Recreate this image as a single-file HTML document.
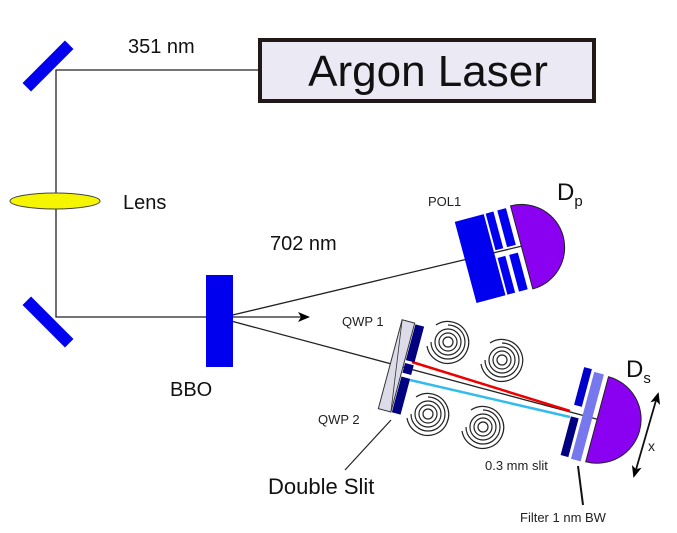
<!DOCTYPE html>
<html><head><style>html,body{margin:0;padding:0;background:#fff}svg{display:block}</style></head>
<body>
<svg width="677" height="533" viewBox="0 0 677 533" xmlns="http://www.w3.org/2000/svg" font-family="Liberation Sans, sans-serif">
<defs><marker id="ah" markerWidth="12" markerHeight="10" refX="10" refY="5" orient="auto" markerUnits="userSpaceOnUse"><path d="M0,0 L12,5 L0,10 L3,5 Z" fill="#000"/></marker></defs>
<!-- laser -->
<rect x="260" y="40" width="334" height="61" fill="#ebe9f4" stroke="#231818" stroke-width="4"/>
<text x="428" y="86" font-size="44" text-anchor="middle" fill="#111">Argon Laser</text>
<text x="128" y="53" font-size="20" fill="#111">351 nm</text>
<!-- beams -->
<path d="M258,70 H56 V317 H308" fill="none" stroke="#222" stroke-width="1.3" marker-end="url(#ah)"/>
<line x1="220" y1="318" x2="560" y2="237" stroke="#222" stroke-width="1.3"/>
<line x1="220" y1="318" x2="600" y2="420" stroke="#222" stroke-width="1.3"/>
<!-- mirrors -->
<rect x="-6" y="-30" width="12" height="60" fill="#0000ee" transform="translate(48,66) rotate(45)"/>
<rect x="-6" y="-30" width="12" height="60" fill="#0000ee" transform="translate(48,322) rotate(-45)"/>
<ellipse cx="55" cy="201" rx="45" ry="8" fill="#f5f500" stroke="#444" stroke-width="1"/>
<text x="123" y="209" font-size="20" fill="#111">Lens</text>
<rect x="206" y="275" width="27" height="92" fill="#0000ee"/>
<text x="170" y="396" font-size="20" fill="#111">BBO</text>
<text x="270" y="250" font-size="20" fill="#111">702 nm</text>
<!-- POL1 and Dp -->
<g transform="translate(512,250) rotate(-15)">
<rect x="-48" y="-42" width="30" height="84" fill="#0000ee"/>
<rect x="-16" y="-42" width="8" height="38" fill="#0000ee"/>
<rect x="-16" y="4" width="8" height="38" fill="#0000ee"/>
<rect x="-4" y="-42" width="9" height="38" fill="#0000ee"/>
<rect x="-4" y="4" width="9" height="38" fill="#0000ee"/>
<path d="M10,-43 A43,43 0 0 1 10,43 Z" fill="#8a00f0" stroke="#222" stroke-width="1"/>
</g>
<text x="428" y="206" font-size="13" fill="#222">POL1</text>
<text x="557" y="200" font-size="24" fill="#111">D<tspan font-size="15" dy="6">p</tspan></text>
<!-- spirals -->
<g fill="none" stroke="#222" stroke-width="1.2">
<g transform="translate(448,342)"><circle r="5"/><circle r="9"/><circle r="13"/><path d="M0,-17 A17,17 0 1 1 -17,0"/><path d="M-12,-17 A21,21 0 1 1 -21,4"/></g>
<g transform="translate(502,360)"><circle r="5"/><circle r="9"/><circle r="13"/><path d="M0,-17 A17,17 0 1 1 -17,0"/><path d="M-12,-17 A21,21 0 1 1 -21,4"/></g>
<g transform="translate(428,414)"><circle r="5"/><circle r="9"/><circle r="13"/><path d="M0,-17 A17,17 0 1 1 -17,0"/><path d="M-12,-17 A21,21 0 1 1 -21,4"/></g>
<g transform="translate(483,427)"><circle r="5"/><circle r="9"/><circle r="13"/><path d="M0,-17 A17,17 0 1 1 -17,0"/><path d="M-12,-17 A21,21 0 1 1 -21,4"/></g>
</g>
<!-- beams after slit -->
<line x1="412" y1="362" x2="570" y2="411" stroke="#e00" stroke-width="2.5"/>
<line x1="410" y1="380" x2="570" y2="417" stroke="#33bbee" stroke-width="2.5"/>
<!-- double slit -->
<g transform="translate(397,366) rotate(15)">
<rect x="-7" y="-46" width="13" height="92" fill="#dcdce8" stroke="#333" stroke-width="1"/>
<line x1="-7" y1="-46" x2="6" y2="46" stroke="#333" stroke-width="0.8"/>
<rect x="7" y="-45" width="9" height="37" fill="#000080"/>
<rect x="7" y="-5" width="9" height="10" fill="#000080"/>
<rect x="7" y="9" width="9" height="37" fill="#000080"/>
</g>
<text x="342" y="326" font-size="13" fill="#222">QWP 1</text>
<text x="318" y="424" font-size="13" fill="#222">QWP 2</text>
<line x1="391" y1="420" x2="345" y2="470" stroke="#222" stroke-width="1.2"/>
<text x="268" y="494" font-size="22" fill="#111">Double Slit</text>
<!-- Ds detector -->
<g transform="translate(600,420) rotate(15)">
<rect x="-29" y="-47" width="8" height="39" fill="#0000cc"/>
<rect x="-29" y="4" width="8" height="40" fill="#000080"/>
<rect x="-18" y="-45" width="10" height="90" fill="#7777ee"/>
<path d="M-3,-44 A44,44 0 0 1 -3,44 Z" fill="#8a00f0" stroke="#222" stroke-width="1"/>
</g>
<text x="626" y="377" font-size="24" fill="#111">D<tspan font-size="15" dy="6">s</tspan></text>
<line x1="656" y1="400" x2="634" y2="476" stroke="#111" stroke-width="1.5" marker-end="url(#ah)"/>
<line x1="636" y1="470" x2="658" y2="394" stroke="#111" stroke-width="1.5" marker-end="url(#ah)"/>
<text x="648" y="451" font-size="14" fill="#222">x</text>
<text x="485" y="470" font-size="13" fill="#222">0.3 mm slit</text>
<line x1="578" y1="466" x2="583" y2="505" stroke="#111" stroke-width="2"/>
<text x="520" y="522" font-size="13" fill="#222">Filter 1 nm BW</text>
</svg>
</body></html>
